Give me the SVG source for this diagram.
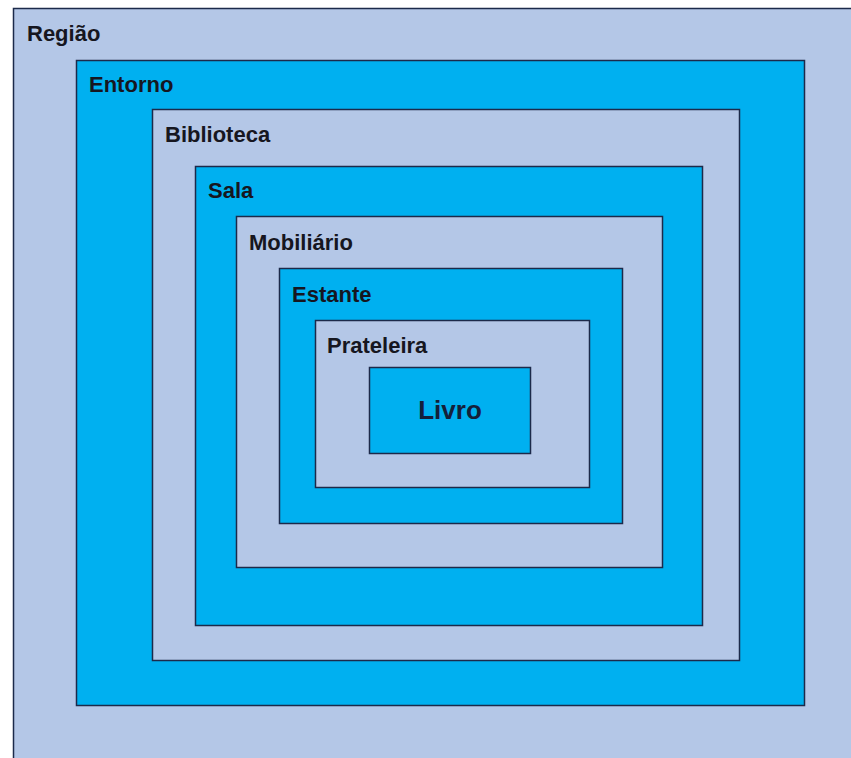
<svg xmlns="http://www.w3.org/2000/svg" width="851" height="758" viewBox="0 0 851 758">
<style>
rect{stroke:#1c2a4a;stroke-width:1.5}
.l{fill:#b4c7e7}
.b{fill:#00b0f0}
text{font-family:"Liberation Sans",Arial,sans-serif;font-weight:bold;font-size:22px;fill:#161620}
.big{font-size:26px;fill:#14203a}
</style>
<rect x="0" y="0" width="851" height="758" fill="#ffffff" style="stroke:none"/>
<g id="regiao"><rect class="l" x="13.5" y="8.5" width="850" height="760"/><text x="27" y="41">Região</text></g>
<g id="entorno"><rect class="b" x="76.5" y="60.5" width="728" height="645"/><text x="89" y="92">Entorno</text></g>
<g id="biblioteca"><rect class="l" x="152.5" y="109.5" width="587" height="551"/><text x="165" y="142">Biblioteca</text></g>
<g id="sala"><rect class="b" x="195.5" y="166.5" width="507" height="459"/><text x="208" y="198">Sala</text></g>
<g id="mobiliario"><rect class="l" x="236.5" y="216.5" width="426" height="351"/><text x="249" y="250">Mobiliário</text></g>
<g id="estante"><rect class="b" x="279.5" y="268.5" width="343" height="255"/><text x="292" y="302">Estante</text></g>
<g id="prateleira"><rect class="l" x="315.5" y="320.5" width="274" height="167"/><text x="327" y="353">Prateleira</text></g>
<g id="livro"><rect class="b" x="369.5" y="367.5" width="161" height="86"/><text class="big" x="450" y="419" text-anchor="middle">Livro</text></g>
<g id="connectors"/>
</svg>
